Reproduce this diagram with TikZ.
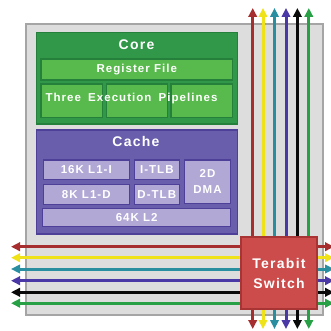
\documentclass[tikz,border=0pt]{standalone}
\usepackage{fontspec}
\setmainfont{Liberation Sans}
\newfontfamily\lblfont[LetterSpace=9]{Liberation Sans}
\usetikzlibrary{arrows.meta}
\definecolor{bggray}{RGB}{221,221,221}
\definecolor{bgedge}{RGB}{165,165,165}
\definecolor{coreout}{RGB}{48,152,72}
\definecolor{coreedge}{RGB}{36,128,58}
\definecolor{corein}{RGB}{88,186,76}
\definecolor{cacheout}{RGB}{104,94,172}
\definecolor{cacheedge}{RGB}{78,64,152}
\definecolor{cachein}{RGB}{178,168,214}
\definecolor{swfill}{RGB}{204,76,76}
\definecolor{swedge}{RGB}{168,52,52}
\definecolor{cred}{RGB}{166,46,46}
\definecolor{cyellow}{RGB}{240,226,24}
\definecolor{cteal}{RGB}{40,142,160}
\definecolor{cblue}{RGB}{74,56,166}
\definecolor{cblack}{RGB}{10,10,10}
\definecolor{cgreen}{RGB}{40,160,70}
\begin{document}
\begin{tikzpicture}[x=1pt,y=-1pt,
  box/.style={rectangle,inner sep=0pt,line width=1.4pt},
  grayframe/.style={box,fill=bggray,draw=bgedge},
  coreouter/.style={box,fill=coreout,draw=coreedge},
  coreinner/.style={box,fill=corein,draw=coreedge},
  cacheouter/.style={box,fill=cacheout,draw=cacheedge},
  cacheinner/.style={box,fill=cachein,draw=cacheedge},
  switchbox/.style={box,fill=swfill,draw=swedge},
  bigtxt/.style={text=white,font=\lblfont\bfseries\fontsize{14}{18}\selectfont,align=center,inner sep=0pt},
  smalltxt/.style={text=white,font=\lblfont\bfseries\fontsize{11.5}{15}\selectfont,align=center,inner sep=0pt},
  bus/.style={line width=3pt,{Triangle[width=8.5pt,length=9pt]}-{Triangle[width=8.5pt,length=9pt]}}
]
\useasboundingbox (0,0) rectangle (330,331);
% background frame
\node[grayframe,minimum width=297pt,minimum height=291pt] (frame) at (174.5,169.5) {};
% core
\node[coreouter,minimum width=200.6pt,minimum height=91.7pt] (core) at (137,78.2) {};
\node[bigtxt] (coret) at (136.5,44.5) {Core};
\node[coreinner,minimum width=191.7pt,minimum height=21pt] (regfile) at (136.85,69.5) {};
\node[smalltxt] (regt) at (136.85,69.5) {Register File};
\node[coreinner,minimum width=61.3pt,minimum height=33.3pt] (pipea) at (71.65,100.65) {};
\node[coreinner,minimum width=60.6pt,minimum height=33.3pt] (pipeb) at (137,100.65) {};
\node[coreinner,minimum width=61.7pt,minimum height=33.3pt] (pipec) at (201.85,100.65) {};
\node[smalltxt] (pipet) at (131.5,99) {Three\hspace{3pt} Execution\hspace{3pt} Pipelines};
% cache
\node[cacheouter,minimum width=200.8pt,minimum height=104pt] (cache) at (136.9,182) {};
\node[bigtxt] (cachet) at (136,141.7) {Cache};
\node[cacheinner,minimum width=86pt,minimum height=19.3pt] (lonei) at (86.3,169.65) {};
\node[smalltxt] at (lonei) {16K L1-I};
\node[cacheinner,minimum width=45pt,minimum height=19.3pt] (itlb) at (156.8,169.65) {};
\node[smalltxt] at (itlb) {I-TLB};
\node[cacheinner,minimum width=86pt,minimum height=20pt] (loned) at (86.3,194.3) {};
\node[smalltxt] at (loned) {8K L1-D};
\node[cacheinner,minimum width=45pt,minimum height=20pt] (dtlb) at (156.8,194.3) {};
\node[smalltxt] at (dtlb) {D-TLB};
\node[cacheinner,minimum width=46.4pt,minimum height=43.3pt] (dma) at (207.5,181.65) {};
\node[smalltxt] at (dma) {2D\\[1pt]DMA};
\node[cacheinner,minimum width=188pt,minimum height=18.4pt] (ltwo) at (136.7,217.5) {};
\node[smalltxt] at (ltwo) {64K L2};
% buses
\foreach \nm/\xx/\yy/\cc in {a/252.7/246.7/cred, b/263.0/257.7/cyellow, c/274.5/269.0/cteal, d/286.0/280.7/cblue, e/297.4/292.3/cblack, f/308.8/303.2/cgreen}{
  \coordinate (top\nm) at (\xx,8);
  \coordinate (bot\nm) at (\xx,329);
  \coordinate (lft\nm) at (11,\yy);
  \coordinate (rgt\nm) at (334,\yy);
  \draw[bus,draw=\cc,fill=\cc] (bot\nm) -- (top\nm);
  \draw[bus,draw=\cc,fill=\cc] (lft\nm) -- (rgt\nm);
}
% switch
\node[switchbox,minimum width=76pt,minimum height=72pt] (switch) at (279,273) {};
\node[bigtxt] at (switch) {Terabit\\[2pt]Switch};
\end{tikzpicture}
\end{document}
